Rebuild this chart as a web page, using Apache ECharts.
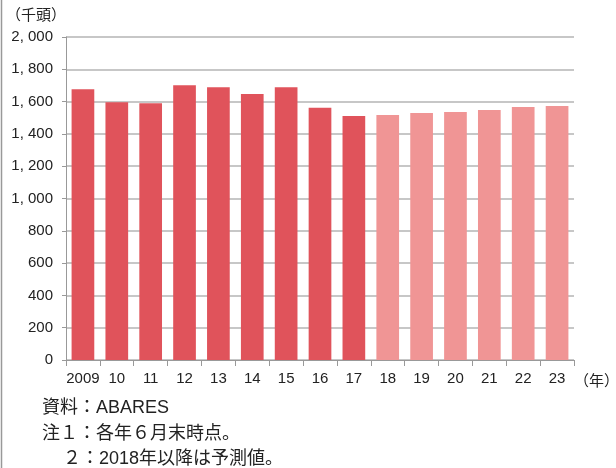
<!DOCTYPE html>
<html>
<head>
<meta charset="utf-8">
<script src="https://cdn.jsdelivr.net/npm/echarts@6/dist/echarts.min.js"></script>
<style>
  html, body { margin: 0; padding: 0; background: #fff; }
  #chart { width: 616px; height: 468px; }
</style>
</head>
<body>
<div id="chart"></div>
<script>
  // 豪州の牛飼養頭数（千頭）
  var years = ["2009", "10", "11", "12", "13", "14", "15", "16", "17", "18", "19", "20", "21", "22", "23"];
  var heads = [1676, 1596, 1590, 1701, 1689, 1647, 1689, 1562, 1511, 1517, 1529, 1536, 1548, 1567, 1573];
  var forecastFrom = 9; // 2018年以降は予測値
  var yTicks = [0, 2000, 200];

  var COLOR_ACTUAL = "#e0535b";
  var COLOR_FORECAST = "#f09595";
  var FONT = "'Liberation Sans', 'Noto Sans CJK JP', sans-serif";

  var chart = echarts.init(document.getElementById("chart"));

  var barData = heads.map(function (v, i) {
    return { value: v, itemStyle: { color: i >= forecastFrom ? COLOR_FORECAST : COLOR_ACTUAL } };
  });

  chart.setOption({
    animation: false,
    grid: { left: 66, right: 42, top: 37, bottom: 108 },
    xAxis: {
      type: "category",
      data: years,
      axisLine: { lineStyle: { color: "#999", width: 1 } },
      axisTick: { show: true, length: 6, lineStyle: { color: "#999" } },
      axisLabel: { interval: 0, color: "#222", fontSize: 15, margin: 11, fontFamily: FONT }
    },
    yAxis: {
      type: "value",
      min: yTicks[0],
      max: yTicks[1],
      interval: yTicks[2],
      axisLine: { show: true, lineStyle: { color: "#999", width: 1 } },
      axisTick: { show: true, length: 4, lineStyle: { color: "#999" } },
      splitLine: { lineStyle: { color: "#b4b4b4", width: 1.5 } },
      axisLabel: {
        color: "#222", fontSize: 15, margin: 13, fontFamily: FONT,
        formatter: function (v) {
          return v >= 1000 ? Math.floor(v / 1000) + ", " + String(v % 1000).padStart(3, "0") : String(v);
        }
      }
    },
    series: [{
      type: "bar",
      data: barData,
      barCategoryGap: "33%"
    }],
    graphic: [
      { type: "line", shape: { x1: 1.5, y1: 0, x2: 1.5, y2: 468 }, style: { stroke: "#999", lineWidth: 1.5 } },
      { type: "text", left: 6, top: 8, style: { text: "（千頭）", fill: "#222", fontSize: 15, fontFamily: FONT } },
      { type: "text", left: 574, top: 374, style: { text: "（年）", fill: "#222", fontSize: 15, fontFamily: FONT } },
      { type: "text", left: 42, top: 399, style: { text: "資料：ABARES", fill: "#222", fontSize: 18, fontFamily: FONT } },
      { type: "text", left: 42, top: 425, style: { text: "注１：各年６月末時点。", fill: "#222", fontSize: 18, fontFamily: FONT } },
      { type: "text", left: 63, top: 450, style: { text: "２：2018年以降は予測値。", fill: "#222", fontSize: 18, fontFamily: FONT } }
    ]
  });
</script>
</body>
</html>
